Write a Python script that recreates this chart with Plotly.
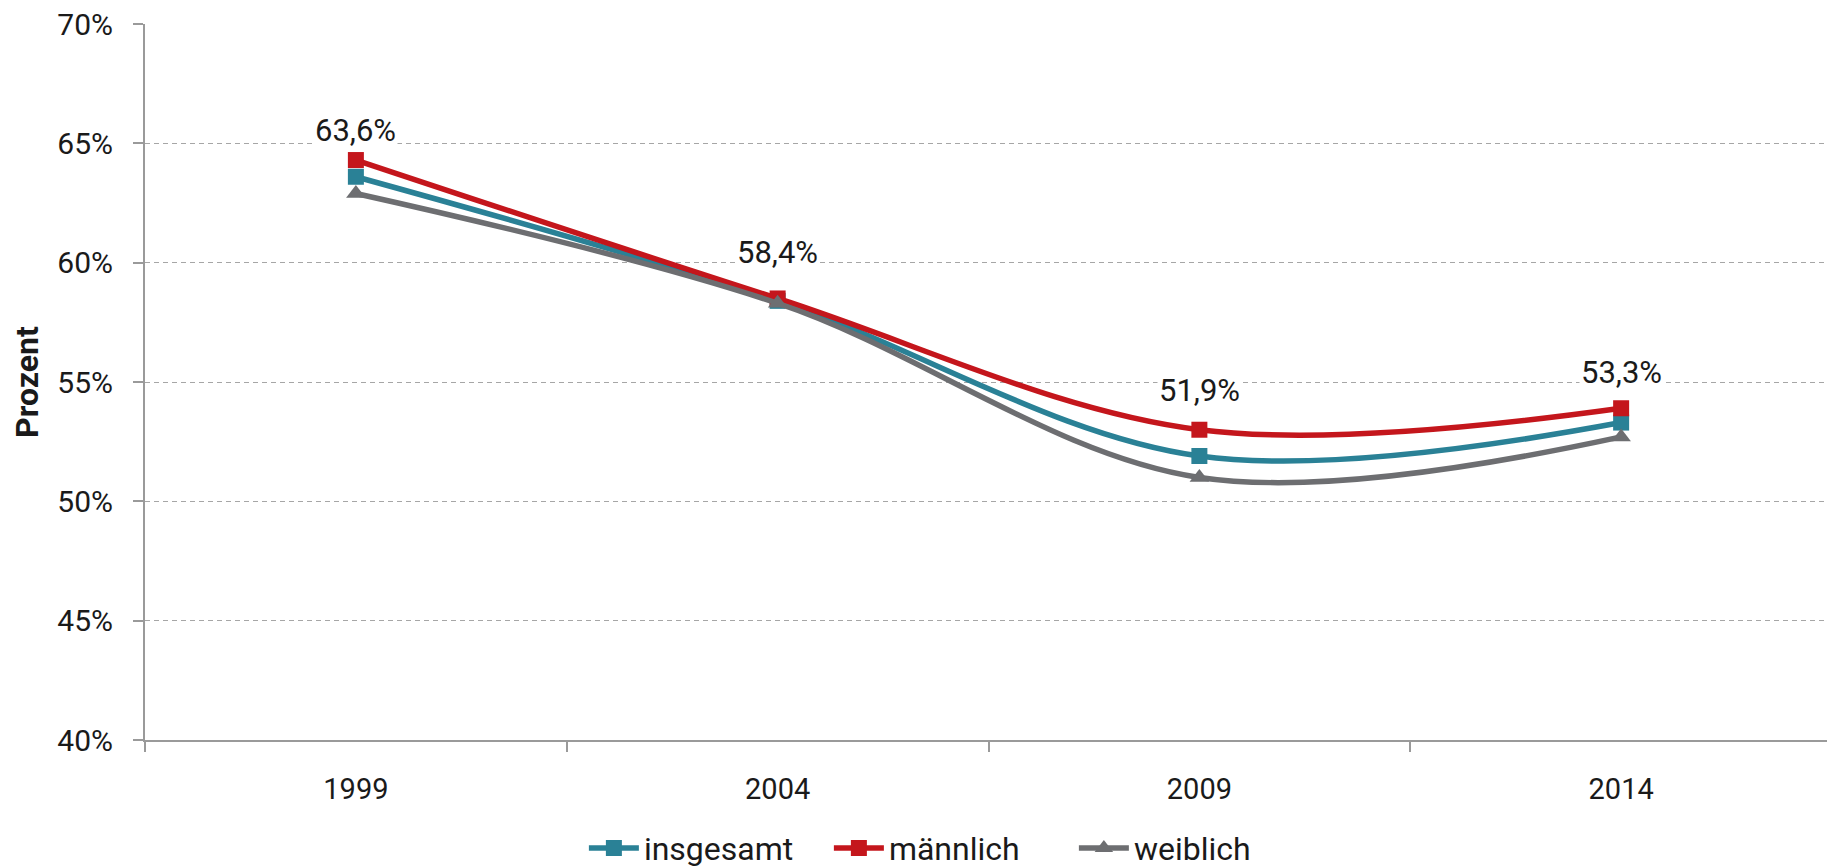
import plotly.graph_objects as go

years = ["1999", "2004", "2009", "2014"]
insgesamt = [63.6, 58.4, 51.9, 53.3]
maennlich = [64.3, 58.5, 53.0, 53.9]
weiblich = [62.9, 58.3, 51.0, 52.7]
label_texts = ["63,6%", "58,4%", "51,9%", "53,3%"]
label_shift = [46, 48, 65, 50]
y_ticks = [40, 45, 50, 55, 60, 65, 70]
y_ticktext = [f"{v}%" for v in y_ticks]

FONT = "Roboto"
TXT = "#1a1a1a"
series = [
    ("insgesamt", insgesamt, "#2a8196", "square"),
    ("männlich", maennlich, "#c4161c", "square"),
    ("weiblich", weiblich, "#6d6e71", "triangle-up"),
]

fig = go.Figure()
for name, vals, color, sym in series:
    fig.add_trace(
        go.Scatter(
            x=years,
            y=vals,
            name=name,
            mode="lines+markers",
            line=dict(color=color, width=5.5, shape="spline", smoothing=1),
            marker=dict(symbol=sym, size=16 if sym == "square" else 17, color=color),
        )
    )

# value labels above the total series (category index as x)
for i, (val, txt, sh) in enumerate(zip(insgesamt, label_texts, label_shift)):
    fig.add_annotation(
        x=i,
        y=val,
        text=txt,
        yshift=sh,
        showarrow=False,
        bgcolor="white",
        font=dict(family=FONT, size=31, color=TXT),
    )

# the page body adds an 8px offset, so the margins are set 8px smaller on top/left
fig.update_layout(
    width=1835,
    height=867,
    margin=dict(l=137, r=11, t=16, b=135),
    plot_bgcolor="white",
    paper_bgcolor="white",
    font=dict(family=FONT, size=29, color=TXT),
    legend=dict(
        orientation="h",
        x=0.478,
        xanchor="center",
        yref="container",
        y=0.031,
        yanchor="middle",
        font=dict(family=FONT, size=32, color=TXT),
        itemwidth=50,
        entrywidth=180,
        entrywidthmode="pixels",
        tracegroupgap=0,
    ),
    showlegend=True,
)

fig.update_xaxes(
    type="category",
    range=[-0.5, 3.5],
    automargin=False,
    showline=True,
    linecolor="#9a9a9a",
    linewidth=2,
    showgrid=False,
    ticks="outside",
    tickson="boundaries",
    ticklen=10,
    tickwidth=2,
    tickcolor="#9a9a9a",
    ticklabelstandoff=22,
    tickfont=dict(family=FONT, size=29, color=TXT),
)

fig.update_yaxes(
    range=[40, 70],
    tickvals=y_ticks,
    ticktext=y_ticktext,
    automargin=False,
    showline=True,
    linecolor="#9a9a9a",
    linewidth=2,
    ticks="outside",
    ticklen=10,
    tickwidth=2,
    tickcolor="#9a9a9a",
    ticklabelstandoff=14,
    ticklabeloverflow="allow",
    showgrid=True,
    gridcolor="#a6a6a6",
    gridwidth=1,
    griddash="5px,4px",
    zeroline=False,
    tickfont=dict(family=FONT, size=30, color=TXT),
    title=dict(text="<b>Prozent</b>", font=dict(family=FONT, size=32, color=TXT), standoff=16),
)

fig.write_html("out.html")
